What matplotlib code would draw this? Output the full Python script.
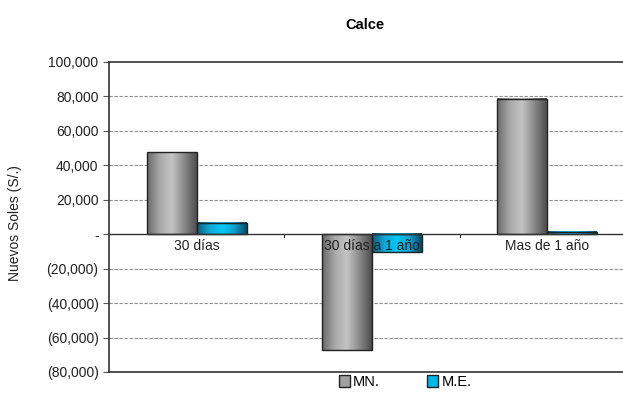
import numpy as np
import matplotlib.pyplot as plt
from matplotlib.ticker import FuncFormatter
from matplotlib.patches import Patch

plt.rcParams['font.family'] = ['Liberation Sans', 'DejaVu Sans']

categorias = ["30 días", "30 días a 1 año", "Mas de 1 año"]
mn = [47500, -67300, 78500]
me = [6500, -10500, 1300]
series = ["MN.", "M.E."]

def fmt(v, pos):
    if v == 0:
        return "-"
    if v < 0:
        return "({:,.0f})".format(-v)
    return "{:,.0f}".format(v)

def gradient_bar(ax, x0, w, h, cols):
    from matplotlib.colors import LinearSegmentedColormap
    cmap = LinearSegmentedColormap.from_list("g", cols)
    grad = np.linspace(0, 1, 64).reshape(1, -1)
    y0, y1 = (0, h) if h >= 0 else (h, 0)
    ax.imshow(grad, cmap=cmap, aspect="auto", extent=(x0, x0 + w, y0, y1),
              zorder=3, interpolation="bicubic")
    ax.add_patch(plt.Rectangle((x0, y0), w, y1 - y0, fill=False,
                               edgecolor="#222222", lw=1.0, zorder=4))

fig = plt.figure(figsize=(6.23, 4.2), dpi=100)
ax = fig.add_axes([109 / 623, 1 - 372 / 420, (635 - 109) / 623, (372 - 62) / 420])

gris = ["#6a6a6a", "#a8a8a8", "#c4c4c4", "#8a8a8a", "#4e4e4e"]
cian = ["#0a5f7f", "#12a8d8", "#00c8f4", "#10a0d0", "#064a66"]

x = np.arange(len(categorias))
w = 0.285
for i in x:
    gradient_bar(ax, i - w, w, mn[i], gris)
    gradient_bar(ax, i, w, me[i], cian)

ax.set_xlim(-0.5, 2.5)
ax.set_ylim(-80000, 100000)
ax.set_yticks(np.arange(-80000, 100001, 20000))
ax.yaxis.set_major_formatter(FuncFormatter(fmt))
ax.tick_params(axis="y", labelsize=10, length=4, color="#555555", labelcolor="#222222")
for yv in np.arange(-60000, 100000, 20000):
    if yv != 0:
        ax.axhline(yv, color="#909090", lw=0.8, ls=(0, (3, 1.5)), zorder=1)
ax.axhline(0, color="#333333", lw=1.0, zorder=5)

ax.set_xticks([0.5, 1.5])
ax.set_xticklabels([])
ax.tick_params(axis="x", length=0)
for i in [0.5, 1.5]:
    ax.plot([i, i], [0, -1500], color="#333333", lw=0.8, zorder=5)
for i, c in enumerate(categorias):
    ax.text(i, -3000, c, ha="center", va="top", fontsize=10, color="#222222", zorder=6)

for s in ["top", "bottom", "left"]:
    ax.spines[s].set_color("#333333")
    ax.spines[s].set_linewidth(1.2)
ax.spines["right"].set_visible(False)

ax.set_ylabel("Nuevos Soles (S/.)", fontsize=10, color="#222222")
ax.yaxis.set_label_coords(-0.165, 0.48)
fig.text(365 / 623, 1 - 25 / 420, "Calce", ha="center", va="center",
         fontsize=10.5, fontweight="bold")

handles = [Patch(facecolor="#a0a0a0", edgecolor="#222222"),
           Patch(facecolor="#00b8e8", edgecolor="#222222")]
fig.legend(handles, series, loc="center", bbox_to_anchor=(405 / 623, 1 - 382 / 420),
           ncol=2, frameon=False, fontsize=10.5, handlelength=0.8, handleheight=0.8,
           handletextpad=0.2, columnspacing=3.2)

fig.savefig("out.png", dpi=100)
